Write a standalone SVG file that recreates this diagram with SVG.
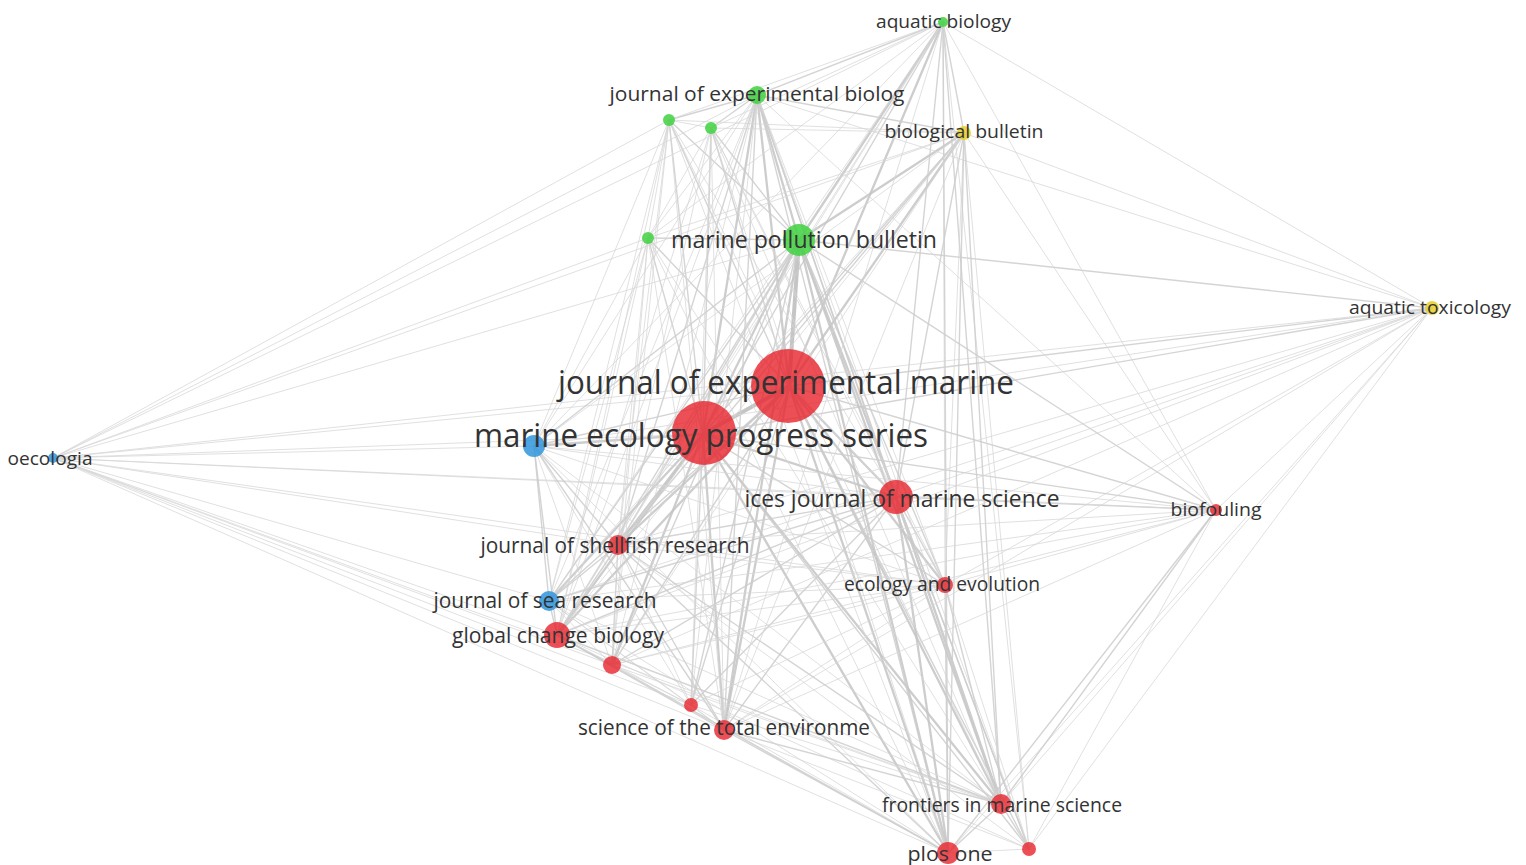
<svg xmlns="http://www.w3.org/2000/svg" width="1526" height="865" viewBox="0 0 1526 865">
<style>
text{font-family:"Open Sans","Noto Sans","Liberation Sans",sans-serif;fill:#333;dominant-baseline:central;text-anchor:middle}
line{stroke-linecap:round}
.a{stroke:#d6d6d6;stroke-width:1;stroke-opacity:.75}
.b{stroke:#cccccc;stroke-width:1.4;stroke-opacity:.85}
.c{stroke:#c4c4c4;stroke-width:2.3;stroke-opacity:.85}
.d{stroke:#bbbbbb;stroke-width:4;stroke-opacity:.85}
.r{fill:#e8232c;fill-opacity:.8}
.g{fill:#3fd13f;fill-opacity:.85}
.bl{fill:#2f95dc;fill-opacity:.85}
.y{fill:#e8cf2a;fill-opacity:.85}
</style>
<rect width="1526" height="865" fill="#fff"/>
<g id="connectors">
<!-- jem -->
<line class="d" x1="789" y1="386" x2="703" y2="434"/>
<line class="d" x1="789" y1="386" x2="799" y2="240"/>
<line class="c" x1="789" y1="386" x2="896" y2="497"/>
<line class="c" x1="789" y1="386" x2="757" y2="95"/>
<line class="c" x1="789" y1="386" x2="964" y2="133"/>
<line class="c" x1="789" y1="386" x2="943" y2="22"/>
<line class="b" x1="789" y1="386" x2="669" y2="120"/>
<line class="b" x1="789" y1="386" x2="711" y2="128"/>
<line class="b" x1="789" y1="386" x2="648" y2="238"/>
<line class="b" x1="789" y1="386" x2="1432" y2="308"/>
<line class="b" x1="789" y1="386" x2="534" y2="446"/>
<line class="a" x1="789" y1="386" x2="53" y2="458"/>
<line class="b" x1="789" y1="386" x2="1216" y2="510"/>
<line class="c" x1="789" y1="386" x2="618" y2="545"/>
<line class="c" x1="789" y1="386" x2="945" y2="585"/>
<line class="b" x1="789" y1="386" x2="549" y2="601"/>
<line class="c" x1="789" y1="386" x2="557" y2="635"/>
<line class="b" x1="789" y1="386" x2="612" y2="665"/>
<line class="b" x1="789" y1="386" x2="691" y2="705"/>
<line class="c" x1="789" y1="386" x2="724" y2="730"/>
<line class="c" x1="789" y1="386" x2="1001" y2="804"/>
<line class="c" x1="789" y1="386" x2="948" y2="853"/>
<line class="b" x1="789" y1="386" x2="1029" y2="849"/>
<!-- meps -->
<line class="c" x1="703" y1="434" x2="799" y2="240"/>
<line class="c" x1="703" y1="434" x2="896" y2="497"/>
<line class="c" x1="703" y1="434" x2="757" y2="95"/>
<line class="b" x1="703" y1="434" x2="964" y2="133"/>
<line class="b" x1="703" y1="434" x2="943" y2="22"/>
<line class="b" x1="703" y1="434" x2="669" y2="120"/>
<line class="b" x1="703" y1="434" x2="711" y2="128"/>
<line class="b" x1="703" y1="434" x2="648" y2="238"/>
<line class="b" x1="703" y1="434" x2="1432" y2="308"/>
<line class="c" x1="703" y1="434" x2="534" y2="446"/>
<line class="a" x1="703" y1="434" x2="53" y2="458"/>
<line class="b" x1="703" y1="434" x2="1216" y2="510"/>
<line class="c" x1="703" y1="434" x2="618" y2="545"/>
<line class="b" x1="703" y1="434" x2="945" y2="585"/>
<line class="c" x1="703" y1="434" x2="549" y2="601"/>
<line class="c" x1="703" y1="434" x2="557" y2="635"/>
<line class="c" x1="703" y1="434" x2="612" y2="665"/>
<line class="b" x1="703" y1="434" x2="691" y2="705"/>
<line class="c" x1="703" y1="434" x2="724" y2="730"/>
<line class="c" x1="703" y1="434" x2="1001" y2="804"/>
<line class="c" x1="703" y1="434" x2="948" y2="853"/>
<line class="b" x1="703" y1="434" x2="1029" y2="849"/>
<!-- mpb -->
<line class="c" x1="799" y1="240" x2="943" y2="22"/>
<line class="c" x1="799" y1="240" x2="757" y2="95"/>
<line class="c" x1="799" y1="240" x2="964" y2="133"/>
<line class="b" x1="799" y1="240" x2="669" y2="120"/>
<line class="b" x1="799" y1="240" x2="711" y2="128"/>
<line class="b" x1="799" y1="240" x2="648" y2="238"/>
<line class="b" x1="799" y1="240" x2="1432" y2="308"/>
<line class="c" x1="799" y1="240" x2="896" y2="497"/>
<line class="b" x1="799" y1="240" x2="1216" y2="510"/>
<line class="b" x1="799" y1="240" x2="618" y2="545"/>
<line class="b" x1="799" y1="240" x2="945" y2="585"/>
<line class="b" x1="799" y1="240" x2="549" y2="601"/>
<line class="b" x1="799" y1="240" x2="557" y2="635"/>
<line class="b" x1="799" y1="240" x2="612" y2="665"/>
<line class="b" x1="799" y1="240" x2="691" y2="705"/>
<line class="c" x1="799" y1="240" x2="724" y2="730"/>
<line class="c" x1="799" y1="240" x2="1001" y2="804"/>
<line class="c" x1="799" y1="240" x2="948" y2="853"/>
<line class="b" x1="799" y1="240" x2="1029" y2="849"/>
<line class="b" x1="799" y1="240" x2="534" y2="446"/>
<line class="a" x1="799" y1="240" x2="53" y2="458"/>
<!-- ices -->
<line class="b" x1="896" y1="497" x2="943" y2="22"/>
<line class="b" x1="896" y1="497" x2="757" y2="95"/>
<line class="b" x1="896" y1="497" x2="964" y2="133"/>
<line class="a" x1="896" y1="497" x2="669" y2="120"/>
<line class="a" x1="896" y1="497" x2="711" y2="128"/>
<line class="a" x1="896" y1="497" x2="648" y2="238"/>
<line class="a" x1="896" y1="497" x2="1432" y2="308"/>
<line class="b" x1="896" y1="497" x2="1216" y2="510"/>
<line class="b" x1="896" y1="497" x2="618" y2="545"/>
<line class="b" x1="896" y1="497" x2="945" y2="585"/>
<line class="b" x1="896" y1="497" x2="549" y2="601"/>
<line class="b" x1="896" y1="497" x2="557" y2="635"/>
<line class="b" x1="896" y1="497" x2="612" y2="665"/>
<line class="b" x1="896" y1="497" x2="691" y2="705"/>
<line class="b" x1="896" y1="497" x2="724" y2="730"/>
<line class="c" x1="896" y1="497" x2="1001" y2="804"/>
<line class="c" x1="896" y1="497" x2="948" y2="853"/>
<line class="b" x1="896" y1="497" x2="1029" y2="849"/>
<line class="a" x1="896" y1="497" x2="534" y2="446"/>
<line class="a" x1="896" y1="497" x2="53" y2="458"/>
<!-- jeb -->
<line class="b" x1="757" y1="95" x2="943" y2="22"/>
<line class="b" x1="757" y1="95" x2="964" y2="133"/>
<line class="b" x1="757" y1="95" x2="669" y2="120"/>
<line class="b" x1="757" y1="95" x2="711" y2="128"/>
<line class="a" x1="757" y1="95" x2="648" y2="238"/>
<line class="a" x1="757" y1="95" x2="1432" y2="308"/>
<line class="a" x1="757" y1="95" x2="1216" y2="510"/>
<line class="b" x1="757" y1="95" x2="618" y2="545"/>
<line class="a" x1="757" y1="95" x2="945" y2="585"/>
<line class="a" x1="757" y1="95" x2="549" y2="601"/>
<line class="a" x1="757" y1="95" x2="557" y2="635"/>
<line class="a" x1="757" y1="95" x2="612" y2="665"/>
<line class="a" x1="757" y1="95" x2="691" y2="705"/>
<line class="b" x1="757" y1="95" x2="724" y2="730"/>
<line class="b" x1="757" y1="95" x2="1001" y2="804"/>
<line class="b" x1="757" y1="95" x2="948" y2="853"/>
<line class="a" x1="757" y1="95" x2="1029" y2="849"/>
<line class="a" x1="757" y1="95" x2="534" y2="446"/>
<line class="a" x1="757" y1="95" x2="53" y2="458"/>
<!-- ab -->
<line class="b" x1="943" y1="22" x2="964" y2="133"/>
<line class="a" x1="943" y1="22" x2="669" y2="120"/>
<line class="a" x1="943" y1="22" x2="711" y2="128"/>
<line class="a" x1="943" y1="22" x2="648" y2="238"/>
<line class="a" x1="943" y1="22" x2="1432" y2="308"/>
<line class="a" x1="943" y1="22" x2="1216" y2="510"/>
<line class="a" x1="943" y1="22" x2="618" y2="545"/>
<line class="a" x1="943" y1="22" x2="945" y2="585"/>
<line class="a" x1="943" y1="22" x2="549" y2="601"/>
<line class="a" x1="943" y1="22" x2="557" y2="635"/>
<line class="a" x1="943" y1="22" x2="724" y2="730"/>
<line class="b" x1="943" y1="22" x2="1001" y2="804"/>
<line class="b" x1="943" y1="22" x2="948" y2="853"/>
<line class="a" x1="943" y1="22" x2="1029" y2="849"/>
<line class="a" x1="943" y1="22" x2="53" y2="458"/>
<line class="a" x1="943" y1="22" x2="534" y2="446"/>
<!-- bb -->
<line class="a" x1="964" y1="133" x2="669" y2="120"/>
<line class="a" x1="964" y1="133" x2="711" y2="128"/>
<line class="a" x1="964" y1="133" x2="648" y2="238"/>
<line class="a" x1="964" y1="133" x2="1432" y2="308"/>
<line class="a" x1="964" y1="133" x2="1216" y2="510"/>
<line class="b" x1="964" y1="133" x2="618" y2="545"/>
<line class="a" x1="964" y1="133" x2="945" y2="585"/>
<line class="a" x1="964" y1="133" x2="549" y2="601"/>
<line class="a" x1="964" y1="133" x2="557" y2="635"/>
<line class="a" x1="964" y1="133" x2="724" y2="730"/>
<line class="b" x1="964" y1="133" x2="1001" y2="804"/>
<line class="b" x1="964" y1="133" x2="948" y2="853"/>
<line class="a" x1="964" y1="133" x2="1029" y2="849"/>
<line class="a" x1="964" y1="133" x2="53" y2="458"/>
<line class="a" x1="964" y1="133" x2="534" y2="446"/>
<line class="a" x1="964" y1="133" x2="612" y2="665"/>
<!-- g1 -->
<line class="a" x1="669" y1="120" x2="711" y2="128"/>
<line class="a" x1="669" y1="120" x2="648" y2="238"/>
<line class="a" x1="669" y1="120" x2="618" y2="545"/>
<line class="a" x1="669" y1="120" x2="549" y2="601"/>
<line class="a" x1="669" y1="120" x2="557" y2="635"/>
<line class="a" x1="669" y1="120" x2="724" y2="730"/>
<line class="a" x1="669" y1="120" x2="1001" y2="804"/>
<line class="a" x1="669" y1="120" x2="948" y2="853"/>
<line class="a" x1="669" y1="120" x2="612" y2="665"/>
<line class="a" x1="669" y1="120" x2="53" y2="458"/>
<line class="a" x1="669" y1="120" x2="534" y2="446"/>
<!-- g2 -->
<line class="a" x1="711" y1="128" x2="648" y2="238"/>
<line class="a" x1="711" y1="128" x2="618" y2="545"/>
<line class="a" x1="711" y1="128" x2="557" y2="635"/>
<line class="a" x1="711" y1="128" x2="724" y2="730"/>
<line class="a" x1="711" y1="128" x2="1001" y2="804"/>
<line class="a" x1="711" y1="128" x2="948" y2="853"/>
<line class="a" x1="711" y1="128" x2="691" y2="705"/>
<line class="a" x1="711" y1="128" x2="945" y2="585"/>
<!-- g3 -->
<line class="a" x1="648" y1="238" x2="618" y2="545"/>
<line class="a" x1="648" y1="238" x2="549" y2="601"/>
<line class="a" x1="648" y1="238" x2="557" y2="635"/>
<line class="a" x1="648" y1="238" x2="724" y2="730"/>
<line class="a" x1="648" y1="238" x2="948" y2="853"/>
<line class="a" x1="648" y1="238" x2="612" y2="665"/>
<line class="a" x1="648" y1="238" x2="53" y2="458"/>
<line class="a" x1="648" y1="238" x2="534" y2="446"/>
<line class="a" x1="648" y1="238" x2="1001" y2="804"/>
<!-- at -->
<line class="a" x1="1432" y1="308" x2="53" y2="458"/>
<line class="a" x1="1432" y1="308" x2="1216" y2="510"/>
<line class="a" x1="1432" y1="308" x2="618" y2="545"/>
<line class="a" x1="1432" y1="308" x2="945" y2="585"/>
<line class="a" x1="1432" y1="308" x2="549" y2="601"/>
<line class="a" x1="1432" y1="308" x2="557" y2="635"/>
<line class="a" x1="1432" y1="308" x2="724" y2="730"/>
<line class="a" x1="1432" y1="308" x2="1001" y2="804"/>
<line class="a" x1="1432" y1="308" x2="948" y2="853"/>
<line class="a" x1="1432" y1="308" x2="1029" y2="849"/>
<line class="a" x1="1432" y1="308" x2="534" y2="446"/>
<line class="a" x1="1432" y1="308" x2="612" y2="665"/>
<!-- oec -->
<line class="a" x1="53" y1="458" x2="534" y2="446"/>
<line class="a" x1="53" y1="458" x2="1216" y2="510"/>
<line class="a" x1="53" y1="458" x2="618" y2="545"/>
<line class="a" x1="53" y1="458" x2="945" y2="585"/>
<line class="a" x1="53" y1="458" x2="549" y2="601"/>
<line class="a" x1="53" y1="458" x2="557" y2="635"/>
<line class="a" x1="53" y1="458" x2="612" y2="665"/>
<line class="a" x1="53" y1="458" x2="691" y2="705"/>
<line class="a" x1="53" y1="458" x2="724" y2="730"/>
<line class="a" x1="53" y1="458" x2="1001" y2="804"/>
<line class="a" x1="53" y1="458" x2="948" y2="853"/>
<!-- blue1 -->
<line class="b" x1="534" y1="446" x2="618" y2="545"/>
<line class="b" x1="534" y1="446" x2="549" y2="601"/>
<line class="b" x1="534" y1="446" x2="557" y2="635"/>
<line class="a" x1="534" y1="446" x2="612" y2="665"/>
<line class="a" x1="534" y1="446" x2="691" y2="705"/>
<line class="b" x1="534" y1="446" x2="724" y2="730"/>
<line class="a" x1="534" y1="446" x2="1001" y2="804"/>
<line class="a" x1="534" y1="446" x2="948" y2="853"/>
<line class="a" x1="534" y1="446" x2="945" y2="585"/>
<line class="a" x1="534" y1="446" x2="1216" y2="510"/>
<!-- biof -->
<line class="a" x1="1216" y1="510" x2="618" y2="545"/>
<line class="a" x1="1216" y1="510" x2="945" y2="585"/>
<line class="a" x1="1216" y1="510" x2="549" y2="601"/>
<line class="a" x1="1216" y1="510" x2="557" y2="635"/>
<line class="a" x1="1216" y1="510" x2="724" y2="730"/>
<line class="b" x1="1216" y1="510" x2="1001" y2="804"/>
<line class="b" x1="1216" y1="510" x2="948" y2="853"/>
<line class="a" x1="1216" y1="510" x2="1029" y2="849"/>
<line class="a" x1="1216" y1="510" x2="612" y2="665"/>
<!-- jsr -->
<line class="a" x1="618" y1="545" x2="945" y2="585"/>
<line class="b" x1="618" y1="545" x2="549" y2="601"/>
<line class="b" x1="618" y1="545" x2="557" y2="635"/>
<line class="b" x1="618" y1="545" x2="612" y2="665"/>
<line class="a" x1="618" y1="545" x2="691" y2="705"/>
<line class="b" x1="618" y1="545" x2="724" y2="730"/>
<line class="b" x1="618" y1="545" x2="1001" y2="804"/>
<line class="b" x1="618" y1="545" x2="948" y2="853"/>
<line class="a" x1="618" y1="545" x2="1029" y2="849"/>
<!-- ee -->
<line class="a" x1="945" y1="585" x2="549" y2="601"/>
<line class="a" x1="945" y1="585" x2="557" y2="635"/>
<line class="a" x1="945" y1="585" x2="724" y2="730"/>
<line class="b" x1="945" y1="585" x2="1001" y2="804"/>
<line class="b" x1="945" y1="585" x2="948" y2="853"/>
<line class="a" x1="945" y1="585" x2="1029" y2="849"/>
<line class="a" x1="945" y1="585" x2="612" y2="665"/>
<line class="a" x1="945" y1="585" x2="691" y2="705"/>
<!-- jsear -->
<line class="b" x1="549" y1="601" x2="557" y2="635"/>
<line class="a" x1="549" y1="601" x2="612" y2="665"/>
<line class="a" x1="549" y1="601" x2="691" y2="705"/>
<line class="a" x1="549" y1="601" x2="724" y2="730"/>
<line class="a" x1="549" y1="601" x2="1001" y2="804"/>
<line class="a" x1="549" y1="601" x2="948" y2="853"/>
<!-- gcb -->
<line class="b" x1="557" y1="635" x2="612" y2="665"/>
<line class="a" x1="557" y1="635" x2="691" y2="705"/>
<line class="b" x1="557" y1="635" x2="724" y2="730"/>
<line class="b" x1="557" y1="635" x2="1001" y2="804"/>
<line class="b" x1="557" y1="635" x2="948" y2="853"/>
<line class="a" x1="557" y1="635" x2="1029" y2="849"/>
<!-- r1, r2, stoten, fms -->
<line class="a" x1="612" y1="665" x2="691" y2="705"/>
<line class="a" x1="612" y1="665" x2="724" y2="730"/>
<line class="a" x1="612" y1="665" x2="1001" y2="804"/>
<line class="a" x1="612" y1="665" x2="948" y2="853"/>
<line class="a" x1="691" y1="705" x2="724" y2="730"/>
<line class="a" x1="691" y1="705" x2="1001" y2="804"/>
<line class="a" x1="691" y1="705" x2="948" y2="853"/>
<line class="b" x1="724" y1="730" x2="1001" y2="804"/>
<line class="b" x1="724" y1="730" x2="948" y2="853"/>
<line class="a" x1="724" y1="730" x2="1029" y2="849"/>
<line class="b" x1="1001" y1="804" x2="948" y2="853"/>
<line class="b" x1="1001" y1="804" x2="1029" y2="849"/>
<line class="a" x1="948" y1="853" x2="1029" y2="849"/>
</g>
<g id="n-g1"><circle class="g" cx="669" cy="120" r="6"/></g>
<g id="n-g2"><circle class="g" cx="711" cy="128" r="6"/></g>
<g id="n-g3"><circle class="g" cx="648" cy="238" r="6"/></g>
<g id="n-r1"><circle class="r" cx="612" cy="665" r="9"/></g>
<g id="n-r2"><circle class="r" cx="691" cy="705" r="7"/></g>
<g id="n-r3"><circle class="r" cx="1029" cy="849" r="7"/></g>
<g id="n-blue"><circle class="bl" cx="534" cy="446" r="11"/></g>
<g id="n-aquatic-biology"><circle class="g" cx="943" cy="22" r="5"/><text x="943.5" y="21" font-size="19" textLength="135" lengthAdjust="spacingAndGlyphs">aquatic biology</text></g>
<g id="n-journal-of-experimental-biolog"><circle class="g" cx="757" cy="95" r="9"/><text x="757" y="93" font-size="20" textLength="295" lengthAdjust="spacingAndGlyphs">journal of experimental biolog</text></g>
<g id="n-biological-bulletin"><circle class="y" cx="964" cy="133" r="7"/><text x="964" y="131" font-size="19" textLength="159" lengthAdjust="spacingAndGlyphs">biological bulletin</text></g>
<g id="n-marine-pollution-bulletin"><circle class="g" cx="799" cy="240" r="16"/><text x="804" y="239" font-size="23.5" textLength="266" lengthAdjust="spacingAndGlyphs">marine pollution bulletin</text></g>
<g id="n-aquatic-toxicology"><circle class="y" cx="1432" cy="308" r="7"/><text x="1430" y="307" font-size="19" textLength="162" lengthAdjust="spacingAndGlyphs">aquatic toxicology</text></g>
<g id="n-journal-of-experimental-marine"><circle class="r" cx="788" cy="386" r="37"/><text x="786" y="381" font-size="32" textLength="456" lengthAdjust="spacingAndGlyphs">journal of experimental marine</text></g>
<g id="n-marine-ecology-progress-series"><circle class="r" cx="704" cy="433" r="32"/><text x="701" y="434" font-size="32" textLength="454" lengthAdjust="spacingAndGlyphs">marine ecology progress series</text></g>
<g id="n-oecologia"><circle class="bl" cx="53" cy="458" r="5"/><text x="50" y="458" font-size="18" textLength="85" lengthAdjust="spacingAndGlyphs">oecologia</text></g>
<g id="n-ices-journal-of-marine-science"><circle class="r" cx="896" cy="497" r="17"/><text x="902" y="498" font-size="23.5" textLength="315" lengthAdjust="spacingAndGlyphs">ices journal of marine science</text></g>
<g id="n-biofouling"><circle class="r" cx="1216" cy="510" r="6"/><text x="1216" y="509" font-size="19" textLength="91" lengthAdjust="spacingAndGlyphs">biofouling</text></g>
<g id="n-journal-of-shellfish-research"><circle class="r" cx="618" cy="545" r="10"/><text x="615" y="545" font-size="21" textLength="269" lengthAdjust="spacingAndGlyphs">journal of shellfish research</text></g>
<g id="n-ecology-and-evolution"><circle class="r" cx="945" cy="585" r="8"/><text x="942" y="583" font-size="20" textLength="196" lengthAdjust="spacingAndGlyphs">ecology and evolution</text></g>
<g id="n-journal-of-sea-research"><circle class="bl" cx="549" cy="601" r="10"/><text x="545" y="600" font-size="21" textLength="223" lengthAdjust="spacingAndGlyphs">journal of sea research</text></g>
<g id="n-global-change-biology"><circle class="r" cx="557" cy="635" r="13"/><text x="558" y="635" font-size="21" textLength="212" lengthAdjust="spacingAndGlyphs">global change biology</text></g>
<g id="n-science-of-the-total-environme"><circle class="r" cx="724" cy="730" r="10"/><text x="724" y="727" font-size="21" textLength="292" lengthAdjust="spacingAndGlyphs">science of the total environme</text></g>
<g id="n-frontiers-in-marine-science"><circle class="r" cx="1001" cy="804" r="10"/><text x="1002" y="804" font-size="20" textLength="240" lengthAdjust="spacingAndGlyphs">frontiers in marine science</text></g>
<g id="n-plos-one"><circle class="r" cx="948" cy="853" r="11"/><text x="950" y="853" font-size="20" textLength="85" lengthAdjust="spacingAndGlyphs">plos one</text></g>
</svg>
